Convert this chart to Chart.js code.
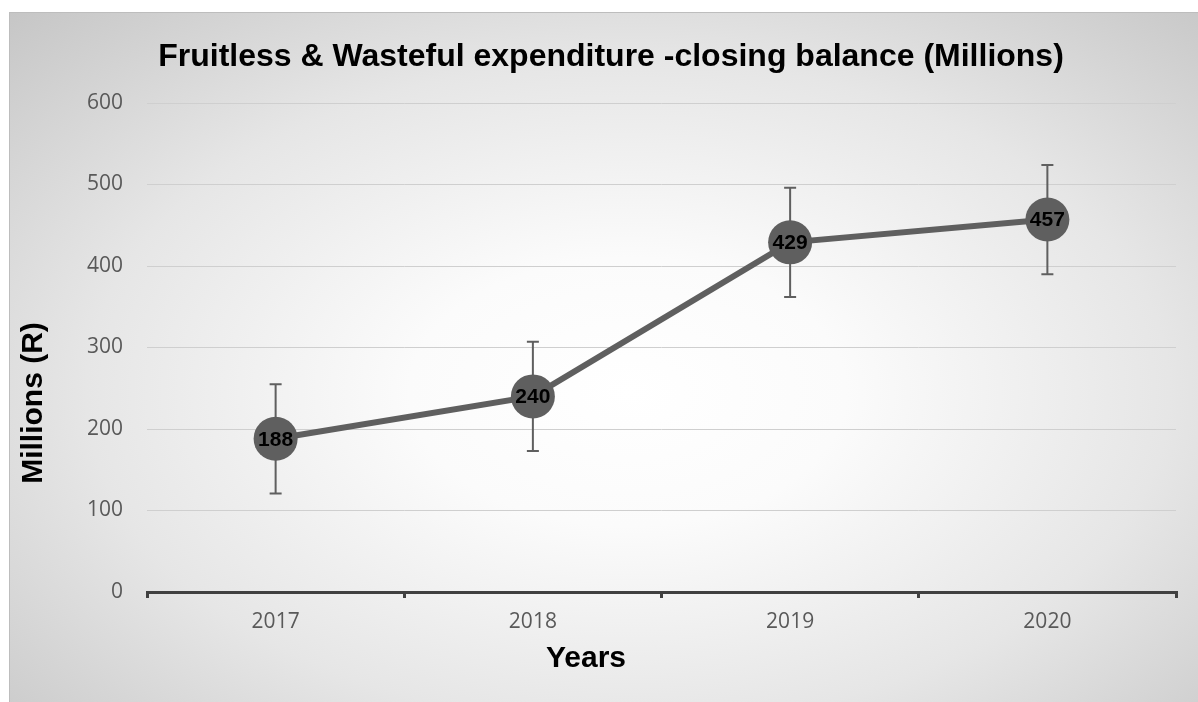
<!DOCTYPE html>
<html>
<head>
<meta charset="utf-8">
<script src="https://cdn.jsdelivr.net/npm/chart.js@4.4.1/dist/chart.umd.min.js"></script>
<style>
  html, body { margin: 0; padding: 0; background: #fff; }
  #wrap {
    position: absolute; left: 9px; top: 12px; width: 1189px; height: 690px;
    box-sizing: border-box;
    border-top: 1px solid #bdbdbd; border-left: 1px solid #bdbdbd;
    background: radial-gradient(ellipse farthest-corner at 52% 55%, #ffffff 0%, #fbfbfb 25%, #e6e6e6 62%, #c6c6c6 100%);
  }
  #chart { display: block; }
</style>
</head>
<body>
<div id="wrap"><canvas id="chart" width="1188" height="689"></canvas></div>
<script>
// Fruitless & wasteful expenditure - closing balance per year
const years = ['2017', '2018', '2019', '2020'];
const balance = [188, 240, 429, 457];
const errorMargin = [67, 67, 67, 67];
const yTicks = [0, 100, 200, 300, 400, 500, 600];

const GREY = '#5f5f5f';
const BOLD = '"Liberation Sans", Arial, sans-serif';

// error bars sit behind the markers
const errorBars = {
  id: 'errorBars',
  beforeDatasetsDraw(chart) {
    const meta = chart.getDatasetMeta(0);
    const y = chart.scales.y;
    const ctx = chart.ctx;
    ctx.save();
    ctx.strokeStyle = GREY;
    ctx.lineWidth = 2;
    meta.data.forEach((pt, i) => {
      const top = y.getPixelForValue(balance[i] + errorMargin[i]);
      const bot = y.getPixelForValue(balance[i] - errorMargin[i]);
      ctx.beginPath();
      ctx.moveTo(pt.x, top); ctx.lineTo(pt.x, bot);
      ctx.moveTo(pt.x - 6, top); ctx.lineTo(pt.x + 6, top);
      ctx.moveTo(pt.x - 6, bot); ctx.lineTo(pt.x + 6, bot);
      ctx.stroke();
    });
    ctx.restore();
  }
};

// value labels inside the markers
const valueLabels = {
  id: 'valueLabels',
  afterDatasetsDraw(chart) {
    const meta = chart.getDatasetMeta(0);
    const ctx = chart.ctx;
    ctx.save();
    ctx.font = 'bold 21px ' + BOLD;
    ctx.fillStyle = '#000';
    ctx.textAlign = 'center';
    ctx.textBaseline = 'middle';
    meta.data.forEach((pt, i) => ctx.fillText(String(balance[i]), pt.x, pt.y + 1));
    ctx.restore();
  }
};

// chart title and axis titles, placed by hand
const titles = {
  id: 'titles',
  afterDraw(chart) {
    const ctx = chart.ctx;
    ctx.save();
    ctx.fillStyle = '#000';
    ctx.textAlign = 'center';
    ctx.textBaseline = 'middle';
    ctx.font = 'bold 32px ' + BOLD;
    ctx.fillText('Fruitless & Wasteful expenditure -closing balance (Millions)', 601, 44);
    ctx.font = 'bold 30px ' + BOLD;
    ctx.fillText('Years', 576, 646);
    ctx.translate(24, 390);
    ctx.rotate(-Math.PI / 2);
    ctx.fillText('Millions (R)', 0, 0);
    ctx.restore();
  }
};

new Chart(document.getElementById('chart'), {
  type: 'line',
  data: {
    labels: years,
    datasets: [{
      label: 'Closing balance',
      data: balance,
      borderColor: GREY,
      borderWidth: 6,
      backgroundColor: GREY,
      pointBackgroundColor: GREY,
      pointBorderWidth: 0,
      pointRadius: 22,
      pointHoverRadius: 22,
      tension: 0
    }]
  },
  options: {
    responsive: false,
    animation: false,
    layout: { padding: { left: 0, right: 17, top: 90, bottom: 0 } },
    plugins: {
      legend: { display: false },
      tooltip: { enabled: false },
      title: { display: false }
    },
    scales: {
      x: {
        offset: true,
        afterFit: s => { s.height = 110; },
        grid: {
          offset: true,
          drawOnChartArea: false,
          drawTicks: true,
          tickLength: 6,
          color: '#404040',
          lineWidth: 3
        },
        border: { display: true, color: '#404040', width: 3 },
        ticks: {
          color: '#595959',
          padding: 11,
          font: { family: '"Open Sans", sans-serif', size: 21 }
        }
      },
      y: {
        min: 0,
        max: 600,
        afterFit: s => { s.width = 137; },
        afterBuildTicks: s => { s.ticks = yTicks.map(v => ({ value: v })); },
        grid: { color: '#cfcfcf', lineWidth: 1, drawTicks: false },
        border: { display: false },
        ticks: {
          color: '#595959',
          padding: 24,
          font: { family: '"Open Sans", sans-serif', size: 21 }
        }
      }
    }
  },
  plugins: [errorBars, valueLabels, titles]
});
</script>
</body>
</html>
